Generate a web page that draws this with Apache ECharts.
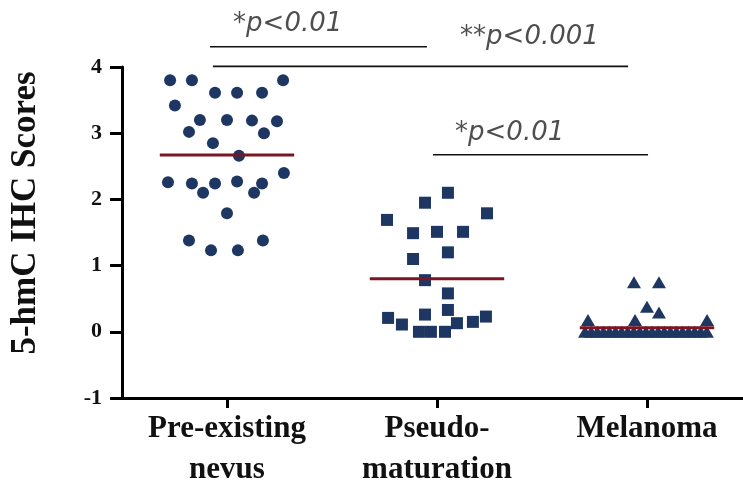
<!DOCTYPE html>
<html><head><meta charset="utf-8">
<script src="https://cdn.jsdelivr.net/npm/echarts@6/dist/echarts.min.js"></script>
<style>html,body{margin:0;padding:0;background:#fff}#c{width:743px;height:495px}</style>
</head><body><div id="c"></div>
<script>
// ---- data ----
const categories = ['Pre-existing\nnevus', 'Pseudo-\nmaturation', 'Melanoma'];
const yMin = -1, yMax = 4, yStep = 1;

const nevusScores = [3.80, 3.80, 3.80, 3.61, 3.61, 3.61, 3.42, 3.20, 3.20, 3.19, 3.18, 3.02, 3.00, 2.85, 2.66,
  2.26, 2.24, 2.24, 2.27, 2.24, 2.40, 2.10, 2.10, 1.79, 1.38, 1.38, 1.23, 1.23];
const nevusJitter = [-0.271, -0.167, 0.267, -0.057, 0.048, 0.167, -0.248, -0.129, 0, 0.119, 0.238, -0.181, 0.176, -0.067, 0.057,
  -0.281, -0.167, -0.057, 0.048, 0.167, 0.271, -0.114, 0.129, 0, -0.181, 0.171, -0.076, 0.052];

const pseudoScores = [2.10, 1.95, 1.79, 1.69, 1.49, 1.51, 1.51, 1.20, 1.10, 0.78, 0.58, 0.33, 0.26, 0.21, 0.23,
  0.11, 0.13, 0.15, 0.00, 0.00, 0.00];
const pseudoJitter = [0.052, -0.057, 0.238, -0.238, -0.114, 0, 0.124, 0.052, -0.114, -0.057, 0.052, 0.052, -0.057, -0.233, 0.233,
  -0.167, 0.095, 0.171, -0.086, -0.029, 0.038];

const melanomaScores = [0.75, 0.75, 0.38, 0.29, 0.18, 0.18, 0.18,
  0, 0, 0, 0, 0, 0, 0, 0, 0, 0, 0, 0, 0, 0, 0, 0, 0, 0, 0, 0, 0];
const melanomaJitter = [-0.062, 0.057, 0, 0.057, -0.281, -0.057, 0.286,
  -0.295, -0.266, -0.237, -0.208, -0.179, -0.150, -0.121, -0.092, -0.063, -0.034, -0.005,
  0.024, 0.053, 0.082, 0.111, 0.140, 0.169, 0.198, 0.227, 0.256, 0.285];

const groupMeans = [2.67, 0.80, 0.06];
const meanHalfWidth = 0.32;

// significance comparisons: [fromX, toX, yLevel] in data units, plus label placement
const sigLabels = ['*p<0.01', '**p<0.001', '*p<0.01'];
const sigLines = [[0.919, 1.952, 4.305], [0.933, 2.91, 4.01], [1.981, 3.005, 2.674]];
const sigLabelAnchors = [[1.029, 4.653], [2.110, 4.45], [2.086, 3.0]];

// ---- chart ----
const navy = '#1d3762';
const meanColor = '#7a1624';
const serif = 'Liberation Serif';

function toPoints(center, scores, jitter) {
  return scores.map((s, i) => [center + jitter[i], s]);
}

const series = [];
const groups = [
  { scores: nevusScores, jitter: nevusJitter, symbol: 'circle', size: 12 },
  { scores: pseudoScores, jitter: pseudoJitter, symbol: 'rect', size: 12 },
  { scores: melanomaScores, jitter: melanomaJitter, symbol: 'triangle', size: [14, 12] }
];
groups.forEach((g, gi) => {
  series.push({
    type: 'scatter', xAxisIndex: 1, yAxisIndex: 0,
    symbol: g.symbol, symbolSize: g.size,
    itemStyle: { color: navy, opacity: 1 },
    data: toPoints(gi + 1, g.scores, g.jitter),
    z: 2, silent: true
  });
});
groupMeans.forEach((m, gi) => {
  series.push({
    type: 'line', xAxisIndex: 1, yAxisIndex: 0,
    data: [[gi + 1 - meanHalfWidth, m], [gi + 1 + meanHalfWidth, m]],
    symbol: 'none', lineStyle: { color: meanColor, width: 3 },
    z: 3, silent: true, animation: false
  });
});
sigLines.forEach((l) => {
  series.push({
    type: 'line', xAxisIndex: 1, yAxisIndex: 0, clip: false,
    data: [[l[0], l[2]], [l[1], l[2]]],
    symbol: 'none', lineStyle: { color: '#111', width: 1.6 },
    z: 3, silent: true, animation: false
  });
});
series.push({
  type: 'scatter', xAxisIndex: 1, yAxisIndex: 0, clip: false,
  symbolSize: 0, silent: true,
  data: sigLabelAnchors.map((a, i) => ({ value: a, name: sigLabels[i] })),
  label: {
    show: true, position: 'right', distance: 0,
    formatter: (p) => p.name,
    fontFamily: 'DejaVu Sans', fontStyle: 'italic', fontSize: 26, color: '#222'
  }
});

const option = {
  animation: false,
  backgroundColor: '#fff',
  grid: { left: 122, right: -9, top: 67, bottom: 97, containLabel: false, outerBoundsMode: 'none' },
  xAxis: [
    {
      type: 'category', data: categories, boundaryGap: true,
      axisLine: { show: true, onZero: false, lineStyle: { color: '#000', width: 3 } },
      axisTick: { show: true, alignWithLabel: true, length: 10, lineStyle: { color: '#000', width: 3 } },
      axisLabel: {
        interval: 0, margin: 10, color: '#111', fontFamily: serif, fontWeight: 'bold',
        fontSize: 31, lineHeight: 41
      },
      splitLine: { show: false }
    },
    { type: 'value', min: 0.5, max: 3.5, show: false, splitLine: { show: false } }
  ],
  yAxis: [{
    type: 'value', min: yMin, max: yMax, interval: yStep,
    name: '5-hmC IHC Scores', nameLocation: 'middle', nameGap: 79,
    nameTextStyle: { fontFamily: serif, fontWeight: 'bold', fontSize: 35, color: '#111', padding: [0, 0, 0, 39] },
    axisLine: { show: true, lineStyle: { color: '#000', width: 3 } },
    axisTick: { show: true, length: 12, lineStyle: { color: '#000', width: 3 } },
    axisLabel: { margin: 20, color: '#111', fontFamily: serif, fontWeight: 'bold', fontSize: 22 },
    splitLine: { show: false }
  }],
  series: series
};
const chart = echarts.init(document.getElementById('c'), null, { renderer: 'canvas' });
chart.setOption(option);
</script>
</body></html>
